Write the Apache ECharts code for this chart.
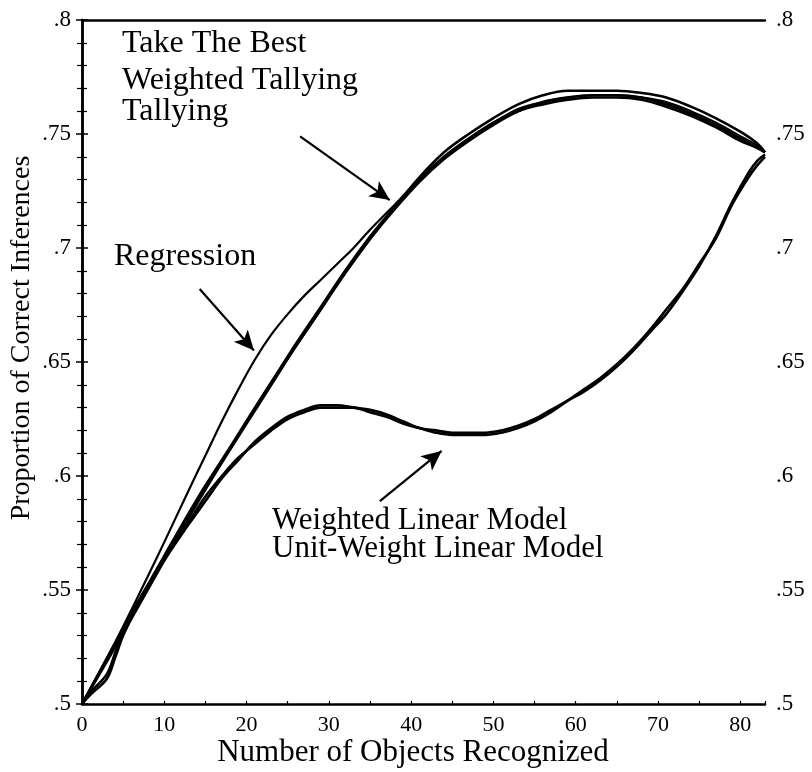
<!DOCTYPE html>
<html>
<head>
<meta charset="utf-8">
<script src="https://cdn.jsdelivr.net/npm/echarts@6/dist/echarts.min.js"></script>
<style>
html,body{margin:0;padding:0;background:#fff;}
#chart{width:812px;height:772px;}
</style>
</head>
<body>
<div id="chart"></div>
<script>
// ---- data ----
const xUpper = [0,5,10,14,17,20,23,26,29,32,35,38,41,44,47,50,53,56,59,62,65,68,71,74,77,80,82,83];
const yTakeTheBest = [.5,.532,.564,.589,.606,.623,.640,.657,.673,.690,.705,.718,.730,.740,.748,.755,.760,.764,.766,.767,.767,.766,.763,.759,.754,.748,.744,.742];
const yWeightedTallying = [.5,.531,.563,.588,.606,.624,.641,.658,.674,.690,.704,.717,.729,.739,.747,.754,.760,.763,.765,.766,.766,.765,.762,.758,.753,.747,.744,.742];
const yTallying = [.5,.533,.565,.590,.607,.624,.641,.657,.673,.689,.704,.718,.731,.742,.750,.757,.763,.767,.769,.769,.769,.768,.766,.762,.757,.751,.746,.742];

const xRegression = [0,3,5,8,10,13,15,17,19,21,23,25,27,29,31,33,35,38,41,44,47,50,53,56,59,62,65,68,71,74,77,80,82,83];
const yRegression = [.5,.52,.534,.556,.571,.594,.609,.624,.638,.651,.662,.671,.679,.686,.693,.700,.708,.719,.730,.740,.748,.755,.761,.764,.766,.767,.767,.766,.764,.760,.755,.749,.745,.742];

const xLinear = [0,1,3,4,5,7,10,13,15,17,19,21,23,25,27,29,31,33,35,37,39,41,43,45,47,49,51,53,55,57,59,61,63,65,67,69,71,73,75,77,79,81,82,83];
const yWeightedLinear = [.5,.504,.511,.52,.53,.545,.564,.58,.591,.600,.608,.614,.620,.625,.628,.630,.630,.630,.628,.626,.623,.621,.619,.618,.618,.618,.619,.621,.624,.628,.633,.638,.643,.649,.656,.664,.673,.682,.693,.704,.719,.731,.736,.740];
const yUnitWeightLinear = [.5,.505,.513,.522,.531,.546,.563,.579,.589,.599,.607,.615,.621,.626,.629,.631,.631,.630,.629,.627,.624,.621,.620,.619,.619,.619,.620,.622,.625,.629,.633,.637,.642,.648,.655,.663,.671,.681,.692,.705,.720,.733,.738,.741];

const xTicks = [0,10,20,30,40,50,60,70,80];
const yTickLabels = ['.5','.55','.6','.65','.7','.75','.8'];

// annotation arrows [tail, tip] in data units
const arrowUpper = [[26.5, 0.749], [37.4, 0.721]];
const arrowRegression = [[14.3, 0.682], [20.9, 0.655]];
const arrowLinear = [[36.2, 0.589], [43.7, 0.611]];

// ---- chart ----
const FONT = '"Liberation Serif", "Times New Roman", serif';
const zip = (xs, ys) => xs.map((x, i) => [x, ys[i]]);
const yLabel = v => {
  const idx = Math.round((v - 0.5) / 0.05);
  return Math.abs(v - (0.5 + idx * 0.05)) < 1e-6 ? yTickLabels[idx] : '';
};
const xLabel = v => xTicks.indexOf(Math.round(v)) >= 0 && Math.abs(v - Math.round(v)) < 1e-6 ? String(Math.round(v)) : '';

const lineStyle = { color: '#000', width: 2.6 };
function curve(name, xs, ys, extra) {
  return Object.assign({
    name, type: 'line', data: zip(xs, ys), smooth: 0.35, showSymbol: false, symbol: 'none',
    lineStyle, silent: true, z: 3
  }, extra || {});
}
function arrow(a) {
  return [{ coord: a[0] }, { coord: a[1] }];
}

const chart = echarts.init(document.getElementById('chart'), null, { renderer: 'canvas' });
const yAxisBase = {
  type: 'value', min: 0.5, max: 0.8, interval: 0.05,
  axisLine: { show: true, lineStyle: { color: '#000', width: 2.5 } },
  axisTick: { show: true, inside: true, length: 6, lineStyle: { color: '#000', width: 1.5 } },
  minorTick: { show: true, splitNumber: 5, length: 5, lineStyle: { color: '#000', width: 1.2 } },
  splitLine: { show: false },
  axisLabel: { formatter: yLabel, fontFamily: FONT, fontSize: 23, color: '#000', margin: 11 }
};
chart.setOption({
  animation: false,
  backgroundColor: '#fff',
  grid: { left: 82, right: 47, top: 20, bottom: 68, containLabel: false },
  xAxis: [
    {
      type: 'value', min: 0, max: 83, interval: 10, position: 'bottom',
      axisLine: { show: true, lineStyle: { color: '#000', width: 2.5 } },
      axisTick: { show: true, inside: true, length: 3, lineStyle: { color: '#000', width: 1.2 } },
      minorTick: { show: true, splitNumber: 2, length: 3, lineStyle: { color: '#000', width: 1.2 } },
      splitLine: { show: false },
      axisLabel: { formatter: xLabel, fontFamily: FONT, fontSize: 22, color: '#000', margin: 10 }
    },
    {
      type: 'value', min: 0, max: 83, position: 'top',
      axisLine: { show: true, onZero: false, lineStyle: { color: '#000', width: 2.5 } },
      axisTick: { show: false }, axisLabel: { show: false }, splitLine: { show: false }
    }
  ],
  yAxis: [
    Object.assign({}, yAxisBase, { position: 'left' }),
    Object.assign({}, yAxisBase, { position: 'right' })
  ],
  series: [
    curve('Take The Best', xUpper, yTakeTheBest),
    curve('Weighted Tallying', xUpper, yWeightedTallying),
    curve('Tallying', xUpper, yTallying),
    curve('Regression', xRegression, yRegression, { lineStyle: { color: '#000', width: 2.2 } }),
    curve('Weighted Linear Model', xLinear, yWeightedLinear),
    curve('Unit-Weight Linear Model', xLinear, yUnitWeightLinear, {
      markLine: {
        silent: true, symbol: ['none', 'arrow'], symbolSize: [14, 20], precision: 4,
        label: { show: false },
        lineStyle: { color: '#000', width: 2.2, type: 'solid' },
        data: [arrow(arrowUpper), arrow(arrowRegression), arrow(arrowLinear)]
      }
    })
  ],
  graphic: [
    { type: 'text', style: { x: 122, y: 44, text: 'Take The Best', font: '32px ' + FONT, fill: '#000', verticalAlign: 'middle' } },
    { type: 'text', style: { x: 122, y: 81, text: 'Weighted Tallying', font: '32px ' + FONT, fill: '#000', verticalAlign: 'middle' } },
    { type: 'text', style: { x: 122, y: 112, text: 'Tallying', font: '32px ' + FONT, fill: '#000', verticalAlign: 'middle' } },
    { type: 'text', style: { x: 114, y: 257, text: 'Regression', font: '32px ' + FONT, fill: '#000', verticalAlign: 'middle' } },
    { type: 'text', style: { x: 272, y: 521, text: 'Weighted Linear Model', font: '31px ' + FONT, fill: '#000', verticalAlign: 'middle' } },
    { type: 'text', style: { x: 272, y: 549, text: 'Unit-Weight Linear Model', font: '31px ' + FONT, fill: '#000', verticalAlign: 'middle' } },
    { type: 'text', style: { x: 413, y: 753, text: 'Number of Objects Recognized', font: '31px ' + FONT, fill: '#000', align: 'center', verticalAlign: 'middle' } },
    { type: 'text', x: 22, y: 338, rotation: Math.PI / 2, style: { x: 0, y: 0, text: 'Proportion of Correct Inferences', font: '28px ' + FONT, fill: '#000', align: 'center', verticalAlign: 'middle' } }
  ]
});
</script>
</body>
</html>
